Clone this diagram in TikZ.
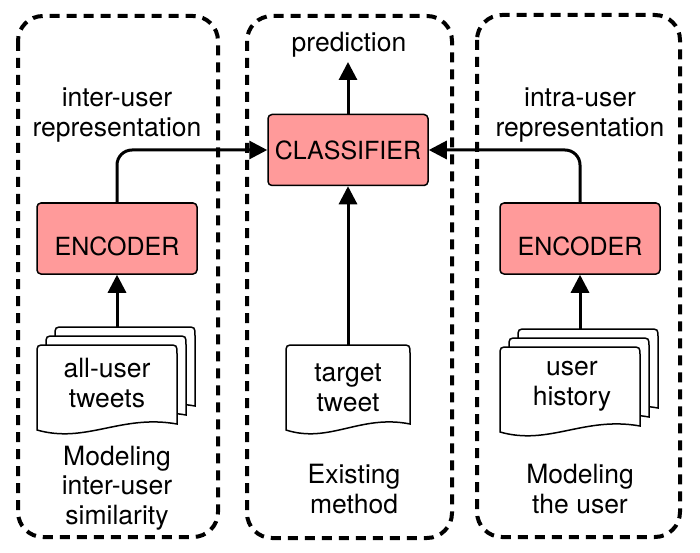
\documentclass[tikz,border=0pt]{standalone}
\usepackage{fontspec}
\setmainfont{TeX Gyre Heros}
\usetikzlibrary{arrows.meta}
\definecolor{boxpink}{HTML}{FF9A9A}
\tikzset{
  grp/.style={draw, line width=4pt, dash pattern=on 10pt off 7pt, rounded corners=25pt},
  blk/.style={draw, fill=boxpink, line width=1.5pt, rounded corners=4pt,
    minimum width=160pt, minimum height=71pt, inner sep=0pt,
    font=\fontsize{25}{30}\selectfont},
  blkenc/.style={blk, text height=34pt, text depth=0pt},
  lbl/.style={align=center, inner sep=0pt, font=\fontsize{26.5}{29.5}\selectfont},
  arr/.style={line width=3pt, -{Triangle[length=18pt,width=18pt]}},
  docline/.style={draw, fill=white, line width=1.5pt},
}
\newcommand\docsheet[4]{%
  \draw[docline] (#1,#2+#4) -- (#1,#2+9) .. controls (#1,#2) .. (#1+9,#2)
    -- (#1+#3-9,#2) .. controls (#1+#3,#2) .. (#1+#3,#2+9)
    -- (#1+#3,#2+#4-6) .. controls (#1+0.6*#3,#2+#4-16) and (#1+0.35*#3,#2+#4+14) .. (#1,#2+#4) -- cycle;}
\begin{document}
\begin{tikzpicture}[x=1pt,y=-1pt]
  \useasboundingbox (0,0) rectangle (700,553);
  % group frames
  \draw[grp] (18,16) rectangle (218,537);
  \draw[grp] (247,16) rectangle (452,538);
  \draw[grp] (477,15) rectangle (680,537);
  % blocks
  \node[blk] (cls) at (348,150) {CLASSIFIER};
  \node[blkenc] (encL) at (117,238.5) {ENCODER};
  \node[blkenc] (encR) at (580,238.5) {ENCODER};
  % documents
  \docsheet{55}{327}{140}{85}
  \docsheet{46}{336}{140}{85}
  \docsheet{37}{345}{140}{85}
  \docsheet{286}{345}{124}{85}
  \docsheet{518}{329}{140}{85}
  \docsheet{509}{338}{140}{85}
  \docsheet{500}{347}{140}{85}
  \coordinate (stackL) at (117,327);
  \coordinate (stackR) at (580,329);
  \node[minimum width=124pt, minimum height=85pt, inner sep=0pt] (tt) at (348,387.5) {};
  \node[lbl] (ttxt) at (348,388) {target\\tweet};
  \node[lbl] (dL) at (107,383) {all-user\\tweets};
  \node[lbl] (dR) at (572,386) {user\\history};
  % labels
  \node[lbl] (pred) at (349,45) {prediction};
  \node[lbl] (repL) at (117,115) {inter-user\\representation};
  \node[lbl] (repR) at (580,115) {intra-user\\representation};
  \node[lbl] (modL) at (117,488) {Modeling\\inter-user\\similarity};
  \node[lbl] (exist) at (354,489) {Existing\\method};
  \node[lbl] (modR) at (580,489) {Modeling\\the user};
  % connectors
  \coordinate (predtip) at (348,62);
  \draw[arr] (cls.north) -- (predtip);
  \draw[arr] (tt.north) -- (cls.south);
  \draw[arr] (stackL) -- (encL.south);
  \draw[arr] (stackR) -- (encR.south);
  \draw[arr, rounded corners=15pt] (encL.north) |- (cls.west);
  \draw[arr, rounded corners=15pt] (encR.north) |- (cls.east);
\end{tikzpicture}
\end{document}
